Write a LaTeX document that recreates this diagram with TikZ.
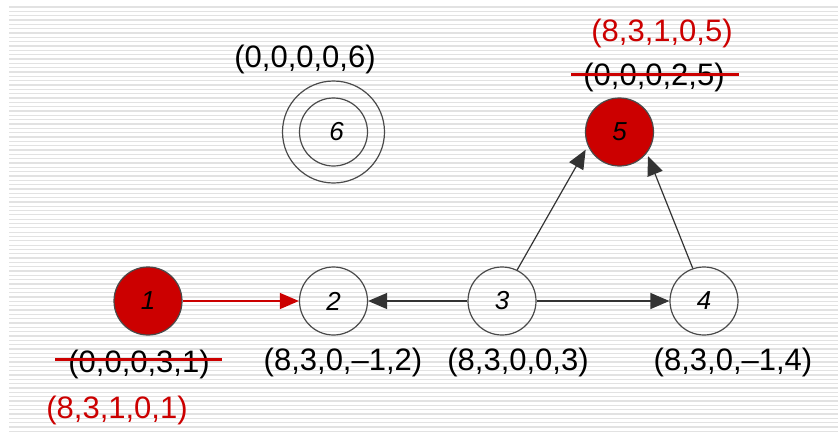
\documentclass[tikz,border=0pt]{standalone}
\usepackage{fontspec}
\setmainfont{Liberation Sans}
\usetikzlibrary{arrows.meta}
\definecolor{mark}{HTML}{CC0000}
\definecolor{rim}{HTML}{4A4A4A}
\definecolor{stripe}{HTML}{E2E2E2}
\tikzset{
  vert/.style={circle, draw=rim, line width=1.2pt, minimum size=68pt, inner sep=0pt,
    font=\fontsize{26}{29}\selectfont\itshape},
  hit/.style={vert, fill=mark},
  tuple/.style={inner sep=0pt, font=\fontsize{31}{36}\selectfont},
  newtuple/.style={tuple, text=mark},
  strike/.style={draw=mark, line width=3pt},
  edge/.style={draw=black!80, line width=1.2pt, -{Triangle[length=19pt,width=16pt]}},
  redge/.style={color=mark, draw=mark, line width=1.2pt, -{Triangle[length=19pt,width=16pt]}},
}
\begin{document}
\begin{tikzpicture}[x=1pt,y=-1pt]
\useasboundingbox (0,0) rectangle (838,434);
\fill[white] (0,0) rectangle (838,434);
% ruled background
\foreach \k in {0,...,98} {
  \draw[stripe, line width=1.3pt] (9,7+4.33*\k) -- (838,7+4.33*\k);
}

% vertices
\node[hit]  (n1) at (148,301) {1};
\node[vert] (n2) at (333.5,301) {2};
\node[vert] (n3) at (502,301) {3};
\node[vert] (n4) at (704,301) {4};
\node[hit]  (n5) at (619.5,132) {5};
\node[vert] (n6) at (333.5,132) {\hspace{6pt}6};
\node[circle, draw=rim, line width=1.2pt, minimum size=102pt, inner sep=0pt] (n6o) at (n6) {};

% edges
\draw[redge] (n1) -- (n2);
\draw[edge] (n3) -- (n2);
\draw[edge] (n3) -- (n4);
\draw[edge] (n3.64.8) -- ([shift={(-3pt,-2pt)}]n5.207.5);
\draw[edge] (n4.109.4) -- ([shift={(2pt,-2pt)}]n5.-40.4);

% distance tuples
\node[tuple] (t6) at (305,59) {(0,0,0,0,6)};
\node[newtuple] (t5n) at (662,33) {(8,3,1,0,5)};
\node[tuple] (t5) at (654,77) {(0,0,0,2,5)};
\draw[strike] ([xshift=-12pt,yshift=3pt]t5.west) -- ([xshift=14pt,yshift=3pt]t5.east);
\node[tuple] (t1) at (139,364) {(0,0,0,3,1)};
\draw[strike] ([xshift=-13pt,yshift=5pt]t1.west) -- ([xshift=12pt,yshift=5pt]t1.east);
\node[newtuple] (t1n) at (117,410) {(8,3,1,0,1)};
\node[tuple] (t2) at (343,362) {(8,3,0,\textendash1,2)};
\node[tuple] (t3) at (518,362) {(8,3,0,0,3)};
\node[tuple] (t4) at (733,362) {(8,3,0,\textendash1,4)};
\end{tikzpicture}
\end{document}
